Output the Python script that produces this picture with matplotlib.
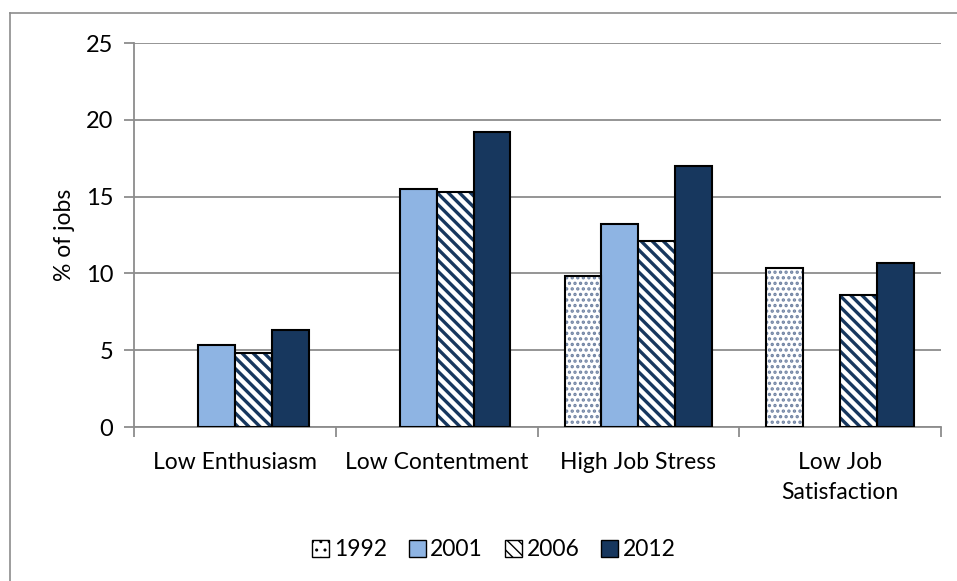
import matplotlib.pyplot as plt
import numpy as np
from matplotlib.lines import Line2D

plt.rcParams['font.family'] = ['Lato', 'DejaVu Sans']

categories = ['Low Enthusiasm', 'Low Contentment', 'High Job Stress', 'Low Job\nSatisfaction']
years = ['1992', '2001', '2006', '2012']
v1992 = [np.nan, np.nan, 9.85, 10.35]
v2001 = [5.35, 15.5, 13.2, np.nan]
v2006 = [4.8, 15.3, 12.1, 8.6]
v2012 = [6.3, 19.2, 17.0, 10.65]
series = [v1992, v2001, v2006, v2012]

faces = ['white', '#8EB4E3', 'white', '#17375E']
hatches = ['...', None, '\\\\\\', None]
hatch_cols = ['#6F82A2', None, '#17375E', None]
hatch_lw = [1.6, None, 2.4, None]

fig = plt.figure(figsize=(9.57, 5.81), dpi=100)
ax = fig.add_axes([134/957, 1-427/581, (941-134)/957, (427-43)/581])

x = np.arange(len(categories))
w = 0.183
for i, vals in enumerate(series):
    pos = x + (i - 1.5) * w
    vals = np.array(vals, dtype=float)
    m = ~np.isnan(vals)
    if hatches[i]:
        with plt.rc_context({'hatch.linewidth': hatch_lw[i]}):
            ax.bar(pos[m], vals[m], w, color=faces[i], edgecolor=hatch_cols[i],
                   hatch=hatches[i], linewidth=0, zorder=3)
        ax.bar(pos[m], vals[m], w, color='none', edgecolor='black', linewidth=1.5, zorder=4)
    else:
        ax.bar(pos[m], vals[m], w, color=faces[i], edgecolor='black', linewidth=1.5, zorder=3)

ax.set_xlim(-0.5, 3.5)
ax.set_ylim(0, 25)
ax.set_yticks([0, 5, 10, 15, 20, 25])
ax.yaxis.grid(True, color='#8C8C8C', linewidth=1.3)
ax.set_axisbelow(True)
for s in ['top', 'right']:
    ax.spines[s].set_visible(False)
ax.spines['left'].set_color('#8C8C8C')
ax.spines['bottom'].set_color('#8C8C8C')
ax.spines['left'].set_linewidth(1.3)
ax.spines['bottom'].set_linewidth(1.3)

ax.set_xticks(np.arange(-0.5, 4.0, 1.0))
ax.set_xticklabels([])
ax.set_xticks(x, minor=True)
ax.set_xticklabels(categories, minor=True, fontsize=16.5, linespacing=1.55)
ax.tick_params(axis='x', which='minor', length=0, pad=18)
ax.tick_params(axis='x', which='major', length=7, color='#8C8C8C', width=1.3)
ax.tick_params(axis='y', length=7, color='#8C8C8C', width=1.3, labelsize=17, pad=8)
ax.set_ylabel('% of jobs', fontsize=16.5, labelpad=8)

# legend
handles = []
for i in range(4):
    with plt.rc_context({'hatch.linewidth': 1.2}):
        h = plt.Rectangle((0, 0), 1, 1, facecolor=faces[i], edgecolor='black',
                          hatch=('..' if i == 0 else hatches[i]), linewidth=1.0)
    handles.append(h)
fig.legend(handles, years, loc='center', bbox_to_anchor=(494/957, 1-550/581), ncol=4,
           frameon=False, fontsize=16.5, handlelength=0.75, handleheight=0.75,
           handletextpad=0.2, columnspacing=0.95)

# outer frame (left and top edges visible)
fig.add_artist(Line2D([10/957, 10/957], [0, 1-13/581], transform=fig.transFigure,
                      color='#8C8C8C', linewidth=1.2))
fig.add_artist(Line2D([10/957, 1], [1-13/581, 1-13/581], transform=fig.transFigure,
                      color='#8C8C8C', linewidth=1.2))

fig.savefig('out.png', dpi=100)
